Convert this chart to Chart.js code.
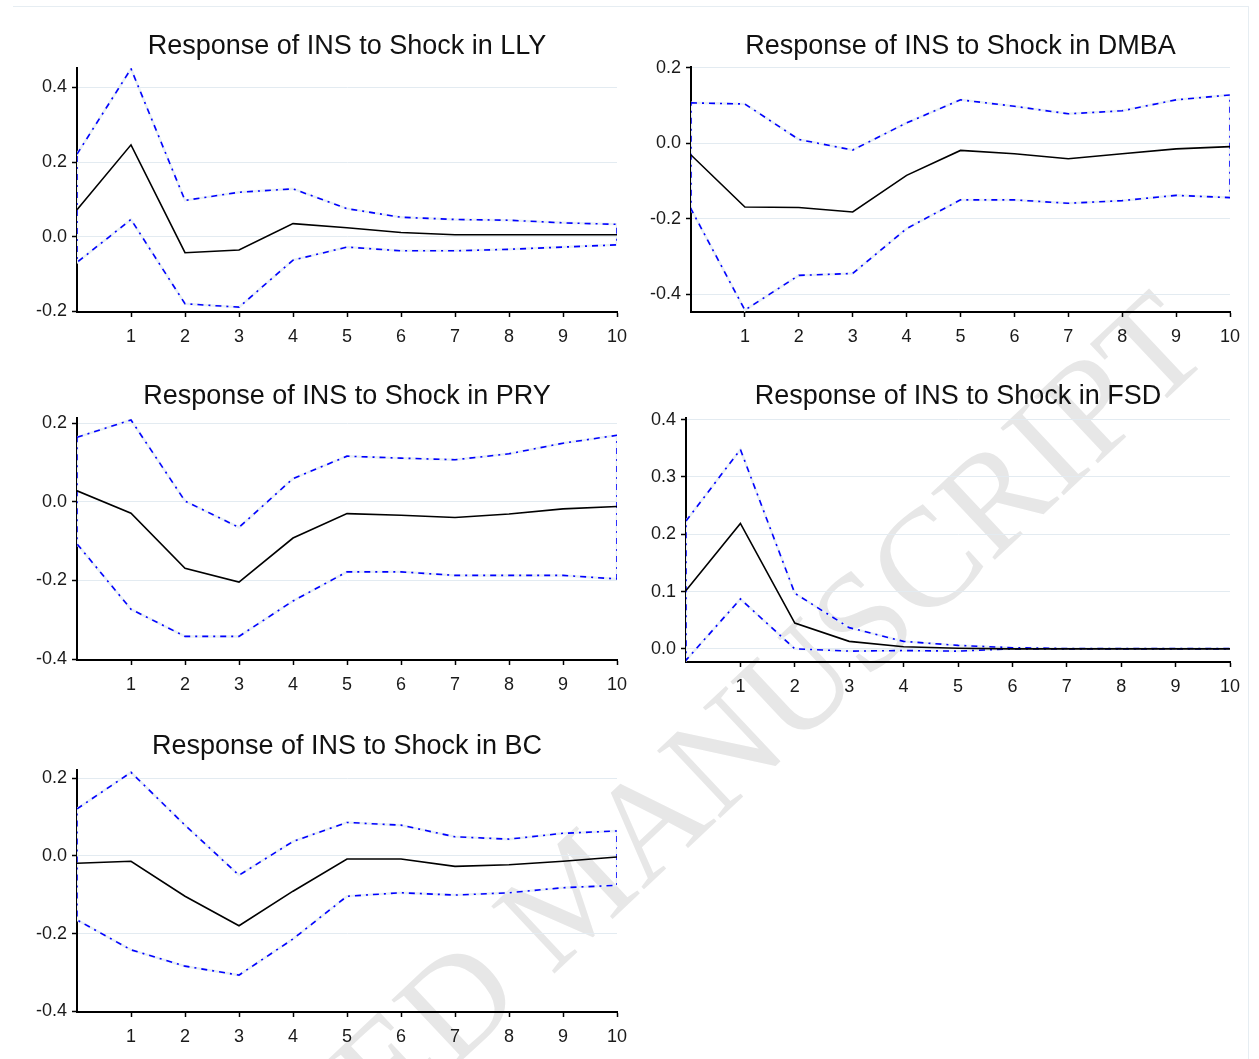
<!DOCTYPE html>
<html><head><meta charset="utf-8">
<script src="https://cdn.jsdelivr.net/npm/chart.js@4.4.1/dist/chart.umd.min.js"></script>
<style>
html,body{margin:0;padding:0;background:#fff;}
body{width:1259px;height:1059px;position:relative;overflow:hidden;font-family:'Liberation Sans',Arial,sans-serif;}
.frame{position:absolute;left:13px;top:6px;width:1235px;height:1070px;border-top:1px solid #e6edf2;border-right:1px solid #e6edf2;}
.wm{position:absolute;left:-86px;top:1413px;transform-origin:0 0;transform:rotate(-43.2deg);font-family:'Liberation Serif','Times New Roman',serif;font-size:141px;color:#e7e7e7;white-space:nowrap;line-height:1;}
.panel{position:absolute;}
</style></head><body>
<div class="wm">ACCEPTED MANUSCRIPT</div>
<div class="frame"></div>
<div class="panel" id="p1"><canvas id="c1"></canvas></div>
<div class="panel" id="p2"><canvas id="c2"></canvas></div>
<div class="panel" id="p3"><canvas id="c3"></canvas></div>
<div class="panel" id="p4"><canvas id="c4"></canvas></div>
<div class="panel" id="p5"><canvas id="c5"></canvas></div>
<script>
// ---- data ----
const horizon = [0,1,2,3,4,5,6,7,8,9,10];
const xTicks = [1,2,3,4,5,6,7,8,9,10];

const llyTitle = 'Response of INS to Shock in LLY';
const llyResponse = [0.072,0.246,-0.043,-0.036,0.035,0.024,0.011,0.005,0.005,0.005,0.005];
const llyUpper    = [0.221,0.450,0.097,0.119,0.128,0.075,0.052,0.046,0.044,0.037,0.033];
const llyLower    = [-0.069,0.046,-0.180,-0.189,-0.063,-0.028,-0.038,-0.038,-0.034,-0.028,-0.022];
const llyTicks    = [-0.2,0.0,0.2,0.4];

const dmbaTitle = 'Response of INS to Shock in DMBA';
const dmbaResponse = [-0.031,-0.169,-0.170,-0.182,-0.085,-0.019,-0.028,-0.041,-0.028,-0.015,-0.009];
const dmbaUpper    = [0.107,0.104,0.010,-0.018,0.054,0.115,0.098,0.078,0.086,0.115,0.128];
const dmbaLower    = [-0.174,-0.442,-0.350,-0.345,-0.226,-0.150,-0.150,-0.159,-0.152,-0.138,-0.144];
const dmbaTicks    = [-0.4,-0.2,0.0,0.2];

const pryTitle = 'Response of INS to Shock in PRY';
const pryResponse = [0.028,-0.029,-0.169,-0.204,-0.092,-0.030,-0.034,-0.040,-0.031,-0.018,-0.012];
const pryUpper    = [0.164,0.208,0.002,-0.065,0.059,0.116,0.111,0.107,0.122,0.149,0.169];
const pryLower    = [-0.107,-0.273,-0.342,-0.342,-0.252,-0.178,-0.178,-0.187,-0.187,-0.187,-0.196];
const pryTicks    = [-0.4,-0.2,0.0,0.2];

const fsdTitle = 'Response of INS to Shock in FSD';
const fsdResponse = [0.102,0.219,0.045,0.013,0.0035,0.001,0.0,0.0,0.0,0.0,0.0];
const fsdUpper    = [0.223,0.348,0.097,0.037,0.013,0.006,0.002,0.0005,0.0005,0.0005,0.0005];
const fsdLower    = [-0.020,0.087,0.0,-0.004,-0.003,-0.004,0.0,0.0,0.0,0.0,0.0];
const fsdTicks    = [0.0,0.1,0.2,0.3,0.4];

const bcTitle = 'Response of INS to Shock in BC';
const bcResponse = [-0.019,-0.014,-0.104,-0.180,-0.091,-0.008,-0.008,-0.027,-0.023,-0.014,-0.003];
const bcUpper    = [0.121,0.215,0.079,-0.050,0.037,0.086,0.079,0.049,0.043,0.058,0.064];
const bcLower    = [-0.165,-0.242,-0.284,-0.307,-0.214,-0.104,-0.095,-0.101,-0.095,-0.082,-0.076];
const bcTicks    = [-0.4,-0.2,0.0,0.2];

// ---- layout (page pixels) ----
const panels = [
  {id:'1', title:llyTitle,  resp:llyResponse,  up:llyUpper,  lo:llyLower,  ticks:llyTicks,  yMin:-0.202, yMax:0.452,
   box:{l:0,t:0,w:630,h:350},   area:{l:77,t:68,r:617,b:312}},
  {id:'2', title:dmbaTitle, resp:dmbaResponse, up:dmbaUpper, lo:dmbaLower, ticks:dmbaTicks, yMin:-0.447, yMax:0.202,
   box:{l:630,t:0,w:629,h:350}, area:{l:691,t:67,r:1230,b:312}},
  {id:'3', title:pryTitle,  resp:pryResponse,  up:pryUpper,  lo:pryLower,  ticks:pryTicks,  yMin:-0.402, yMax:0.213,
   box:{l:0,t:350,w:630,h:350}, area:{l:77,t:418,r:617,b:660}},
  {id:'4', title:fsdTitle,  resp:fsdResponse,  up:fsdUpper,  lo:fsdLower,  ticks:fsdTicks,  yMin:-0.023, yMax:0.403,
   box:{l:630,t:350,w:629,h:350}, area:{l:686,t:418,r:1230,b:662}},
  {id:'5', title:bcTitle,   resp:bcResponse,   up:bcUpper,   lo:bcLower,   ticks:bcTicks,   yMin:-0.402, yMax:0.221,
   box:{l:0,t:700,w:630,h:359}, area:{l:77,t:770,r:617,b:1012}}
];

const FONT = "'Liberation Sans', Arial, sans-serif";
const TITLE_SIZE = 27, TITLE_LH = 1.2, TITLE_MID = 47;

panels.forEach(p => {
  const div = document.getElementById('p' + p.id);
  div.style.left = p.box.l + 'px'; div.style.top = p.box.t + 'px';
  div.style.width = p.box.w + 'px'; div.style.height = p.box.h + 'px';

  const line = horizon.map((h, i) => ({x: h, y: p.resp[i]}));
  const band = horizon.map((h, i) => ({x: h, y: p.up[i]}))
    .concat(horizon.map((h, i) => ({x: h, y: p.lo[i]})).reverse());
  band.push({x: horizon[0], y: p.up[0]});

  const titleTopPad = TITLE_MID - TITLE_SIZE * TITLE_LH / 2;
  const titleBotPad = (p.area.t - p.box.t) - titleTopPad - TITLE_SIZE * TITLE_LH;

  new Chart(document.getElementById('c' + p.id), {
    type: 'line',
    data: {
      datasets: [
        {data: line, borderColor: '#000000', borderWidth: 1.6, pointRadius: 0, tension: 0, fill: false},
        {data: band, borderColor: '#0000ff', borderWidth: 1.6, borderDash: [6,5,2,5], pointRadius: 0, tension: 0, fill: false},
        {data: band, borderColor: '#e9f0f4', borderWidth: 2.5, pointRadius: 0, tension: 0, fill: false}
      ]
    },
    options: {
      responsive: true, maintainAspectRatio: false, animation: false, events: [],
      layout: {padding: {left: 0, top: 0, bottom: 0, right: (p.box.l + p.box.w) - p.area.r}},
      plugins: {
        legend: {display: false}, tooltip: {enabled: false},
        title: {display: true, text: p.title, fullSize: false, color: '#111',
          font: {family: FONT, size: TITLE_SIZE, weight: 'normal', lineHeight: TITLE_LH},
          padding: {top: titleTopPad, bottom: titleBotPad}}
      },
      scales: {
        x: {type: 'linear', min: 0, max: 10,
          afterBuildTicks: s => { s.ticks = xTicks.map(v => ({value: v})); },
          afterFit: s => { s.height = (p.box.t + p.box.h) - p.area.b; s.paddingLeft = 0; s.paddingRight = 0; },
          grid: {drawOnChartArea: false, tickColor: '#000', tickLength: 5, tickWidth: 1.5},
          border: {color: '#000', width: 2},
          ticks: {color: '#1a1a1a', font: {family: FONT, size: 18}, padding: 9, maxRotation: 0, autoSkip: false}
        },
        y: {type: 'linear', min: p.yMin, max: p.yMax,
          afterBuildTicks: s => { s.ticks = p.ticks.map(v => ({value: v})); },
          afterFit: s => { s.width = p.area.l - p.box.l; s.paddingTop = 0; s.paddingBottom = 0; },
          grid: {color: '#e3ebf1', lineWidth: 1, tickColor: '#000', tickLength: 5, tickWidth: 1.5},
          border: {color: '#000', width: 2},
          ticks: {color: '#1a1a1a', font: {family: FONT, size: 18}, padding: 5,
            callback: v => v.toFixed(1)}
        }
      }
    }
  });
});
</script>
</body></html>
